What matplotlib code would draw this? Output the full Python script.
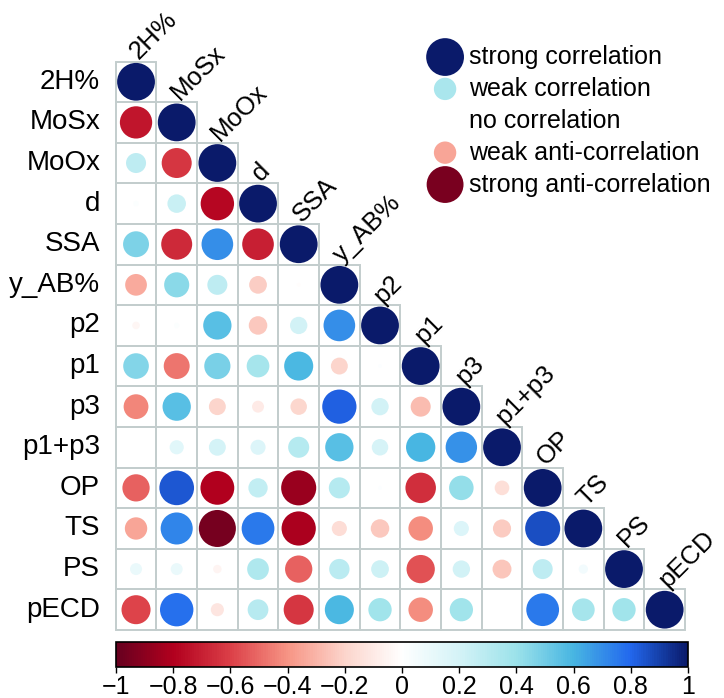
"""
Correlation matrix (lower triangle) with circle markers
"""

import matplotlib

matplotlib.use("Agg")

import matplotlib.pyplot as plt
import numpy as np
from matplotlib.colors import LinearSegmentedColormap, Normalize
from matplotlib.cm import ScalarMappable
from matplotlib.patches import Circle, Rectangle


LABELS = ["2H%", "MoSx", "MoOx", "d", "SSA", "y_AB%", "p2", "p1",
          "p3", "p1+p3", "OP", "TS", "PS", "pECD"]

# lower triangle, row i holds correlations with columns 0..i-1 (diagonal = 1)
ROW_MOSX = [-0.73]
ROW_MOOX = [0.28, -0.63]
ROW_D = [0.02, 0.24, -0.78]
ROW_SSA = [0.47, -0.67, 0.70, -0.70]
ROW_YAB = [-0.33, 0.44, 0.28, -0.22, -0.01]
ROW_P2 = [-0.04, 0.02, 0.56, -0.24, 0.21, 0.70]
ROW_P1 = [0.46, -0.47, 0.48, 0.36, 0.59, -0.20, 0.01]
ROW_P3 = [-0.43, 0.56, -0.20, -0.10, -0.19, 0.82, 0.21, -0.28]
ROW_P1P3 = [0.0, 0.14, 0.20, 0.16, 0.31, 0.56, 0.19, 0.60, 0.69]
ROW_OP = [-0.52, 0.84, -0.80, 0.26, -0.86, 0.31, 0.01, -0.65, 0.42, -0.15]
ROW_TS = [-0.35, 0.72, -0.96, 0.75, -0.82, -0.16, -0.24, -0.42, 0.16,
          -0.23, 0.86]
ROW_PS = [0.10, 0.10, -0.05, 0.33, -0.52, 0.29, 0.22, -0.56, 0.21, -0.25,
          0.28, 0.06]
ROW_PECD = [-0.59, 0.78, -0.12, 0.30, -0.63, 0.59, 0.38, -0.42, 0.38, 0.0,
            0.75, 0.36, 0.38]

LOWER_ROWS = [[], ROW_MOSX, ROW_MOOX, ROW_D, ROW_SSA, ROW_YAB, ROW_P2,
              ROW_P1, ROW_P3, ROW_P1P3, ROW_OP, ROW_TS, ROW_PS, ROW_PECD]

LEGEND_LABELS = ["strong correlation", "weak correlation", "no correlation",
                 "weak anti-correlation", "strong anti-correlation"]
LEGEND_VALUES = [1.0, 0.35, 0.0, -0.35, -0.95]

CBAR_TICKS = [-1, -0.8, -0.6, -0.4, -0.2, 0, 0.2, 0.4, 0.6, 0.8, 1]

CMAP = LinearSegmentedColormap.from_list(
    "corr",
    [
        (0.0, "#67001F"),
        (0.1, "#B2001E"),
        (0.2, "#DC4048"),
        (0.3, "#F79585"),
        (0.4, "#FCD5CC"),
        (0.5, "#FFFFFF"),
        (0.6, "#D4F3F7"),
        (0.7, "#9CE2EA"),
        (0.8, "#48B6E2"),
        (0.9, "#2268EE"),
        (1.0, "#0A1A6A"),
    ],
)

FONT = "Liberation Sans"
GRID_COLOR = "#C3CDCD"


def build_matrix():
    n = len(LABELS)
    corr = np.eye(n)
    for i, row in enumerate(LOWER_ROWS):
        for j, value in enumerate(row):
            corr[i, j] = value
            corr[j, i] = value
    return corr


def circle_radius(value):
    return 0.465 * np.sqrt(abs(value))


def main():
    plt.rcParams["font.family"] = [FONT, "DejaVu Sans"]
    corr = build_matrix()
    n = len(LABELS)
    norm = Normalize(-1, 1)

    fig = plt.figure(figsize=(7.24, 6.98), dpi=100)
    ax = fig.add_axes([115.7 / 724, 68 / 698, 569.3 / 724, 568.5 / 698])
    ax.set_xlim(0, n)
    ax.set_ylim(n, 0)
    ax.axis("off")

    for i in range(n):
        for j in range(i + 1):
            ax.add_patch(Rectangle((j, i), 1, 1, facecolor="none",
                                   edgecolor=GRID_COLOR, linewidth=1.4,
                                   clip_on=False))
            value = corr[i, j]
            if abs(value) < 1e-6:
                continue
            ax.add_patch(Circle((j + 0.5, i + 0.5), circle_radius(value),
                                facecolor=CMAP(norm(value)), edgecolor="none",
                                clip_on=False, zorder=3))

    for i, label in enumerate(LABELS):
        ax.text(-0.38, i + 0.5, label, ha="right", va="center", fontsize=20)
        ax.text(i + 0.66, i + 0.06, label, ha="left", va="bottom",
                rotation=45, rotation_mode="anchor", fontsize=18.5)

    # legend
    for k, (label, value) in enumerate(zip(LEGEND_LABELS, LEGEND_VALUES)):
        y = -0.11 + k * 0.785
        if abs(value) > 1e-6:
            ax.add_patch(Circle((8.1, y), circle_radius(value),
                                facecolor=CMAP(norm(value)), edgecolor="none",
                                clip_on=False, zorder=3))
        ax.text(8.69, y, label, ha="left", va="center", fontsize=18)

    cax = fig.add_axes([116 / 724, 31 / 698, 572 / 724, 25 / 698])
    sm = ScalarMappable(norm=norm, cmap=CMAP)
    cbar = fig.colorbar(sm, cax=cax, orientation="horizontal")
    cbar.set_ticks(CBAR_TICKS)
    cbar.set_ticklabels([f"{t:g}".replace("-", "\u2212") for t in CBAR_TICKS])
    cbar.outline.set_linewidth(1.2)
    cax.tick_params(direction="out", length=4, width=1, labelsize=18, pad=2)

    fig.savefig("out.png", dpi=100)


if __name__ == "__main__":
    main()
